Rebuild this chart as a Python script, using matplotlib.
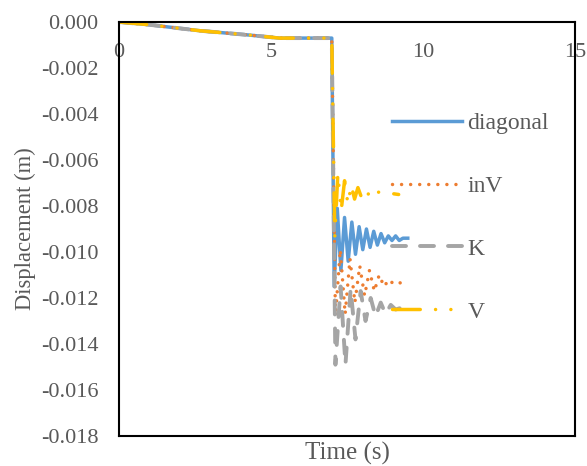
import matplotlib
matplotlib.use("Agg")
import matplotlib.pyplot as plt
from matplotlib.ticker import FuncFormatter, MultipleLocator

# common part before the drop (all four cases overlap)
t_pre = [0.0, 1.0, 2.66, 4.3, 5.28, 7.0]
d_pre = [0.0, -0.00012, -0.00038, -0.00057, -0.0007, -0.0007]

# after the drop (extrema)
t_diag = [7.08, 7.18, 7.30, 7.42, 7.54, 7.66, 7.78, 7.90, 8.02, 8.14, 8.26,
          8.38, 8.50, 8.62, 8.74, 8.86, 8.98, 9.10, 9.22, 9.34, 9.50]
d_diag = [-0.0115, -0.0081, -0.0108, -0.0085, -0.0104, -0.0087, -0.0101,
          -0.0089, -0.0099, -0.0090, -0.0098, -0.0091, -0.0097, -0.0092,
          -0.0096, -0.0093, -0.0095, -0.0093, -0.0095, -0.0094, -0.0094]

t_inv = [7.12, 7.28, 7.44, 7.60, 7.76, 7.92, 8.08, 8.24, 8.40, 8.56, 8.72,
         8.88, 9.04, 9.40]
d_inv = [-0.0128, -0.0099, -0.0127, -0.0103, -0.0122, -0.0106, -0.0119,
         -0.0108, -0.0117, -0.0110, -0.0115, -0.0112, -0.0114, -0.0113]

t_k = [7.12, 7.29, 7.45, 7.62, 7.78, 7.95, 8.11, 8.28, 8.44, 8.61, 8.77,
       8.94, 9.10, 9.35]
d_k = [-0.0149, -0.0115, -0.0149, -0.0116, -0.0138, -0.0117, -0.0130,
       -0.0120, -0.0128, -0.0122, -0.0127, -0.0123, -0.0125, -0.0124]

t_v = [7.10, 7.20, 7.31, 7.42, 7.53, 7.64, 7.75, 7.86, 7.97, 8.08, 8.19,
       8.30, 8.42, 8.53, 8.65, 9.20]
d_v = [-0.0093, -0.0066, -0.0082, -0.0069, -0.0079, -0.0071, -0.0077,
       -0.0072, -0.0076, -0.0073, -0.0075, -0.0073, -0.0075, -0.0074,
       -0.0074, -0.0075]

labels = ["diagonal", "inV", "K", "V"]
colors = ["#5B9BD5", "#ED7D31", "#A5A5A5", "#FFC000"]

plt.rcParams["font.family"] = ["Liberation Serif", "DejaVu Serif"]
plt.rcParams["font.size"] = 16
txt = "#595959"

fig = plt.figure(figsize=(5.87, 4.66), dpi=100)
ax = fig.add_axes([0.2027, 0.0644, 0.7768, 0.8884])

lw = 2.5
ax.plot(t_pre + t_diag, d_pre + d_diag, color=colors[0], lw=lw,
        label=labels[0], solid_joinstyle="round")
ax.plot(t_pre + t_inv, d_pre + d_inv, color=colors[1], lw=lw,
        linestyle=(0, (0.01, 2.6)), dash_capstyle="round", label=labels[1])
ax.plot(t_pre + t_k, d_pre + d_k, color=colors[2], lw=lw + 0.3,
        linestyle=(0, (3.6, 3.6)), dash_capstyle="round", label=labels[2])
ax.plot(t_pre + t_v, d_pre + d_v, color=colors[3], lw=lw,
        linestyle=(0, (8.0, 4.4, 0.01, 4.4, 0.01, 4.4)),
        dash_capstyle="round", label=labels[3])

ax.set_xlim(0, 15)
ax.set_ylim(-0.018, 0.0)
ax.xaxis.set_major_locator(MultipleLocator(5))
ax.yaxis.set_major_locator(MultipleLocator(0.002))
ax.yaxis.set_major_formatter(
    FuncFormatter(lambda v, p: "0.000" if abs(v) < 1e-9 else f"{v:.3f}"))

# x tick labels sit just under the top frame line (axis crosses at 0)
ax.xaxis.tick_top()
ax.tick_params(axis="x", length=0, pad=-29, colors=txt)
ax.tick_params(axis="y", length=0, pad=15, colors=txt)
ax.xaxis.set_label_position("bottom")
ax.set_xlabel("Time (s)", color=txt, labelpad=4, fontsize=18)
ax.set_ylabel("Displacement (m)", color=txt, labelpad=3, fontsize=16.3)

for s in ax.spines.values():
    s.set_linewidth(1.5)
    s.set_color("black")

leg = ax.legend(loc="upper left", bbox_to_anchor=(0.5987, 0.7815),
                frameon=False, borderpad=0, borderaxespad=0, fontsize=17,
                handlelength=2.97, handletextpad=0.23, labelspacing=1.75)
for t in leg.get_texts():
    t.set_color(txt)

fig.savefig("out.png", dpi=100)
